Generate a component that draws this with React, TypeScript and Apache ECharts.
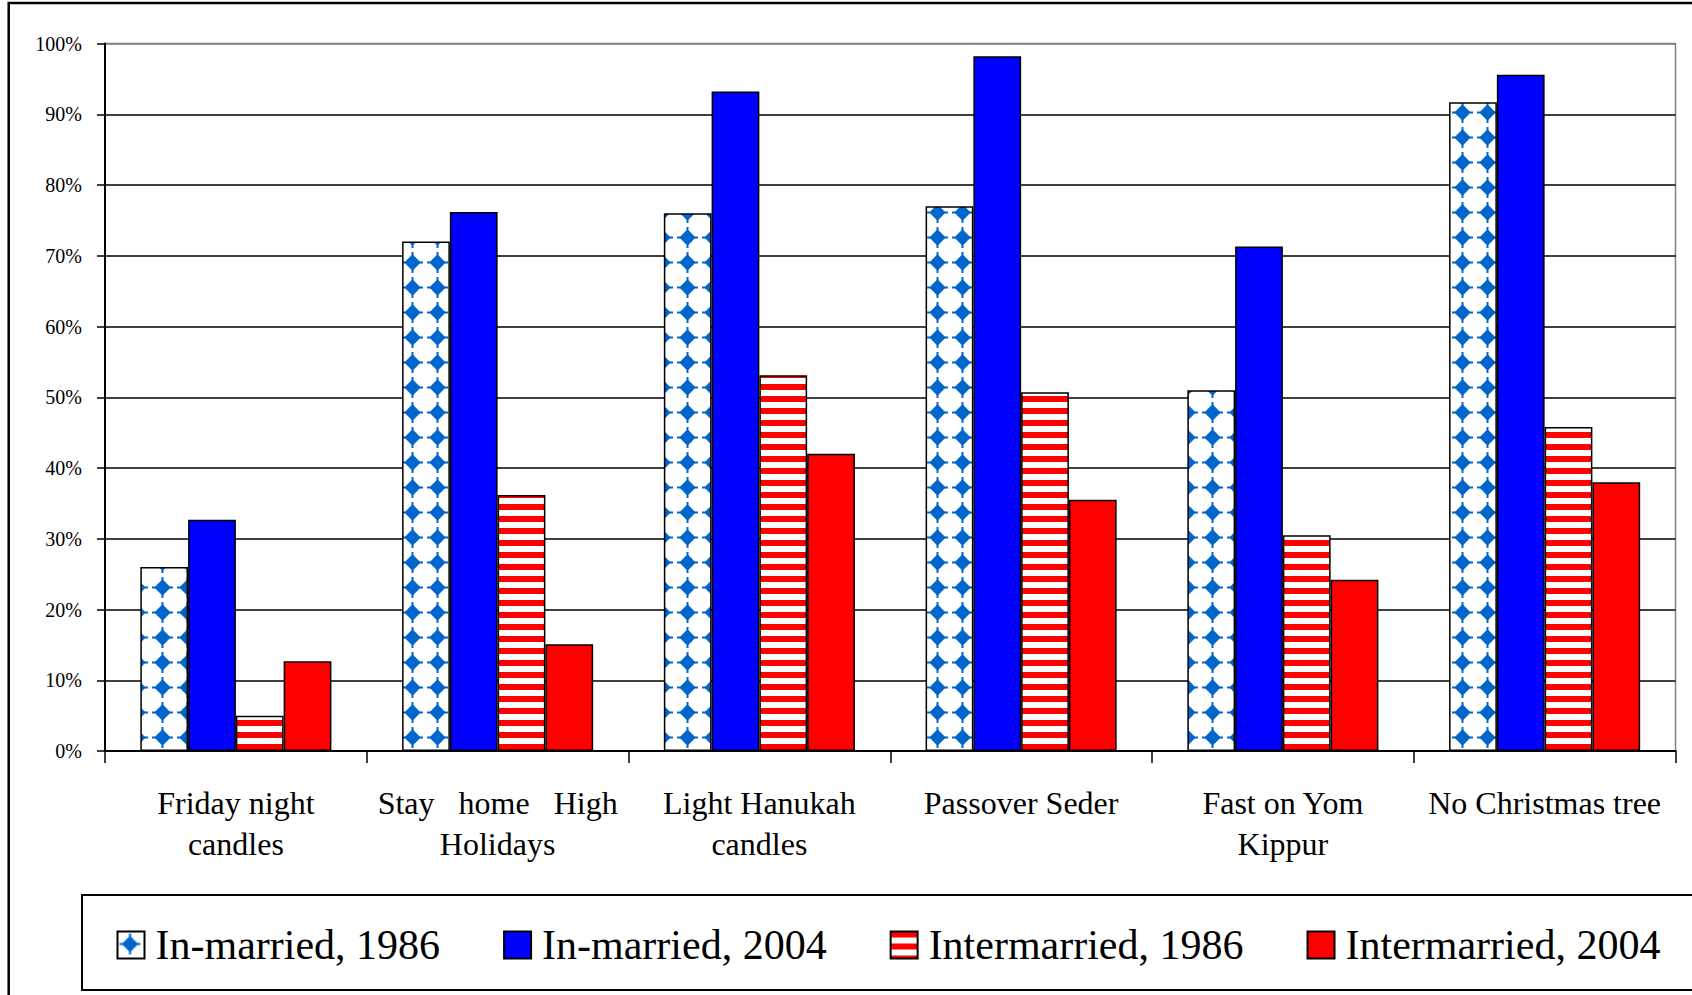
import React, { useEffect, useRef } from "react";
import * as echarts from "echarts";

const categories = [
  "Friday night\ncandles",
  "Stay\u00a0\u00a0 home\u00a0\u00a0 High\nHolidays",
  "Light Hanukah\ncandles",
  "Passover Seder",
  "Fast on Yom\nKippur",
  "No Christmas tree",
];
const seriesNames = ["In-married, 1986", "In-married, 2004", "Intermarried, 1986", "Intermarried, 2004"];
const inMarried1986 = [26, 72, 76, 77, 51, 91.7];
const inMarried2004 = [32.7, 76.2, 93.2, 98.2, 71.3, 95.6];
const intermarried1986 = [5, 36.2, 53.1, 50.7, 30.5, 45.8];
const intermarried2004 = [12.7, 15.1, 42, 35.5, 24.2, 38];
const yTicks = { min: 0, max: 100, interval: 10 };

function diamondTile(): string {
  const s = 25;
  const c = document.createElement("canvas");
  c.width = s;
  c.height = s;
  const g = c.getContext("2d")!;
  g.fillStyle = "#ffffff";
  g.fillRect(0, 0, s, s);
  g.fillStyle = "#0066CC";
  const cx = 12.5, cy = 12.5;
  g.beginPath();
  g.moveTo(cx, cy - 8.2);
  g.lineTo(cx + 8.2, cy);
  g.lineTo(cx, cy + 8.2);
  g.lineTo(cx - 8.2, cy);
  g.closePath();
  g.fill();
  g.fillRect(cx - 1, cy - 10.5, 2, 21);
  g.fillRect(cx - 10.5, cy - 1, 21, 2);
  return c.toDataURL();
}

function stripeTile(): string {
  const c = document.createElement("canvas");
  c.width = 12;
  c.height = 12;
  const g = c.getContext("2d")!;
  g.fillStyle = "#ffffff";
  g.fillRect(0, 0, 12, 12);
  g.fillStyle = "#FF0000";
  g.fillRect(0, 0, 12, 6);
  return c.toDataURL();
}

export default function App() {
  const ref = useRef<HTMLDivElement>(null);
  useEffect(() => {
    document.body.style.margin = "0";
    document.body.style.overflow = "hidden";
    const chart = echarts.init(ref.current!, null, { renderer: "svg" });
    const diamond: any = { image: diamondTile(), repeat: "repeat", imageWidth: 25, imageHeight: 25 };
    const stripes: any = { image: stripeTile(), repeat: "repeat", imageWidth: 12, imageHeight: 12 };
    const font = "'Liberation Serif', 'Times New Roman', serif";
    const fills = [diamond, "#0000FF", stripes, "#FF0000"];
    const datas = [inMarried1986, inMarried2004, intermarried1986, intermarried2004];
    const gridColors = ["#000", "#000", "#000", "#000", "#000", "#000", "#000", "#000", "#000", "#000", "#808080"];
    chart.setOption({
      animation: false,
      backgroundColor: "#ffffff",
      textStyle: { fontFamily: font, color: "#000" },
      grid: {
        left: 105,
        right: 16.5,
        top: 43.5,
        bottom: 244,
        show: true,
        borderColor: "#808080",
        borderWidth: 1.5,
        containLabel: false,
      },
      legend: {
        left: 116.5,
        top: 922,
        padding: 0,
        itemWidth: 27,
        itemHeight: 27,
        itemGap: 63,
        icon: "rect",
        textStyle: { fontFamily: font, fontSize: 42, color: "#000", lineHeight: 46, padding: [0, 0, 0, 6] },
        data: seriesNames,
      },
      graphic: [
        {
          type: "rect",
          shape: { x: 8.7, y: 3, width: 1720, height: 1020 },
          style: { fill: "none", stroke: "#000", lineWidth: 2.5 },
          silent: true,
        },
        {
          type: "rect",
          shape: { x: 82, y: 895, width: 1640, height: 95 },
          style: { fill: "none", stroke: "#000", lineWidth: 2 },
          silent: true,
          z: -1,
        },
      ],
      xAxis: {
        type: "category",
        data: categories,
        axisLine: { lineStyle: { color: "#000", width: 2 } },
        axisTick: { show: true, length: 12, lineStyle: { color: "#000", width: 1.5 } },
        axisLabel: {
          interval: 0,
          margin: 31,
          fontSize: 32,
          lineHeight: 41,
          fontFamily: font,
          color: "#000",
        },
      },
      yAxis: {
        type: "value",
        min: yTicks.min,
        max: yTicks.max,
        interval: yTicks.interval,
        axisLine: { show: true, lineStyle: { color: "#000", width: 2 } },
        axisTick: { show: true, length: 8, lineStyle: { color: "#000", width: 1.5 } },
        axisLabel: {
          formatter: "{value}%",
          fontSize: 20,
          margin: 23,
          fontFamily: font,
          color: "#000",
        },
        splitLine: { show: true, lineStyle: { color: gridColors, width: 1.5 } },
      },
      series: seriesNames.map((name, i) => ({
        name,
        type: "bar",
        data: datas[i],
        barGap: "0%",
        barCategoryGap: "27%",
        itemStyle: { color: fills[i], borderColor: "#000", borderWidth: 1.5 },
      })),
    });
    return () => chart.dispose();
  }, []);
  return <div ref={ref} style={{ width: 1692, height: 995 }} />;
}
